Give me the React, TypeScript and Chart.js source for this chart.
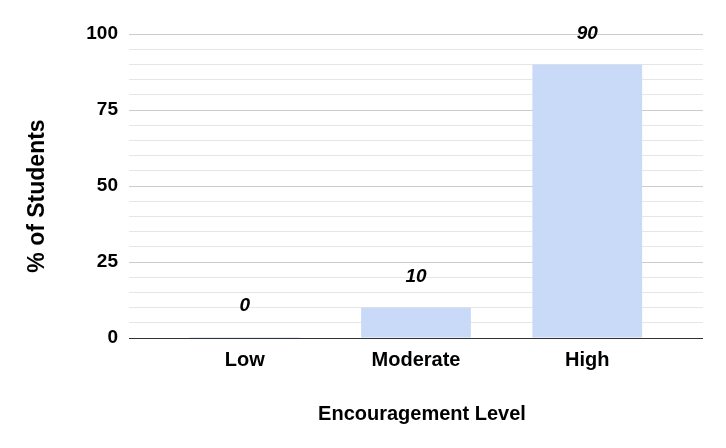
import React, { useEffect, useRef } from "react";
import { Chart, registerables } from "chart.js";

Chart.register(...registerables);

const categories = ["Low", "Moderate", "High"];
const values = [0, 10, 90];
const yTicks = [0, 25, 50, 75, 100];
const yTitle = "% of Students";
const xTitle = "Encouragement Level";

const FONT = "'Liberation Sans', Arial, sans-serif";

const labelPlugin = {
  id: "labelsAndTitles",
  afterDatasetsDraw(chart: any) {
    const ctx = chart.ctx;
    const meta = chart.getDatasetMeta(0);
    ctx.save();
    ctx.fillStyle = "#000";
    ctx.font = `italic bold 19px ${FONT}`;
    ctx.textAlign = "center";
    ctx.textBaseline = "middle";
    meta.data.forEach((el: any, i: number) => {
      ctx.fillText(String(values[i]), el.x, el.y - 31);
    });
    // axis titles
    ctx.font = `bold 20px ${FONT}`;
    ctx.fillText(xTitle, 422, 414);
    ctx.translate(38, 196);
    ctx.rotate(-Math.PI / 2);
    ctx.font = `bold 23px ${FONT}`;
    ctx.fillText(yTitle, 0, 0);
    ctx.restore();
  },
};

export default function App() {
  const ref = useRef<HTMLCanvasElement>(null);
  useEffect(() => {
    document.body.style.margin = "0";
    const chart = new Chart(ref.current!, {
      type: "bar",
      data: {
        datasets: [
          {
            data: values.map((v, i) => ({ x: i, y: v })),
            backgroundColor: "#c9daf8",
            borderWidth: 0,
            barPercentage: 0.641,
            categoryPercentage: 1,
            minBarLength: 1,
          },
        ],
      },
      plugins: [labelPlugin],
      options: {
        animation: false,
        responsive: false,
        maintainAspectRatio: false,
        layout: { padding: { top: 34, right: 23, left: 0, bottom: 0 } },
        plugins: { legend: { display: false }, tooltip: { enabled: false } },
        scales: {
          x: {
            type: "linear",
            offset: false,
            min: -0.676,
            max: 2.676,
            afterBuildTicks: (s: any) => {
              s.ticks = categories.map((_, i) => ({ value: i }));
            },
            afterFit: (s: any) => {
              s.height = 110;
            },
            grid: { display: false, drawTicks: false },
            border: { display: false },
            ticks: {
              callback: (v: any) => categories[v as number] ?? "",
              font: { family: FONT, size: 20, weight: "bold" },
              color: "#000",
              padding: 10,
              maxRotation: 0,
              autoSkip: false,
            },
          },
          y: {
            min: 0,
            max: 100,
            afterBuildTicks: (s: any) => {
              const t = [];
              for (let v = 0; v <= 100; v += 5) t.push({ value: v });
              s.ticks = t;
            },
            afterFit: (s: any) => {
              s.width = 129;
            },
            grid: {
              drawTicks: false,
              color: (c: any) => {
                const v = c.tick?.value;
                if (v === 0) return "#333333";
                return v % 25 === 0 ? "#cccccc" : "#e6e6e6";
              },
              lineWidth: 1,
            },
            border: { display: false },
            ticks: {
              callback: (v: any) => (yTicks.includes(v as number) ? String(v) : ""),
              font: { family: FONT, size: 19, weight: "bold" },
              color: "#000",
              padding: 11,
              autoSkip: false,
            },
          },
        },
      },
    });
    return () => chart.destroy();
  }, []);
  return (
    <div style={{ width: 726, height: 448 }}>
      <canvas ref={ref} width={726} height={448} style={{ display: "block" }} />
    </div>
  );
}
